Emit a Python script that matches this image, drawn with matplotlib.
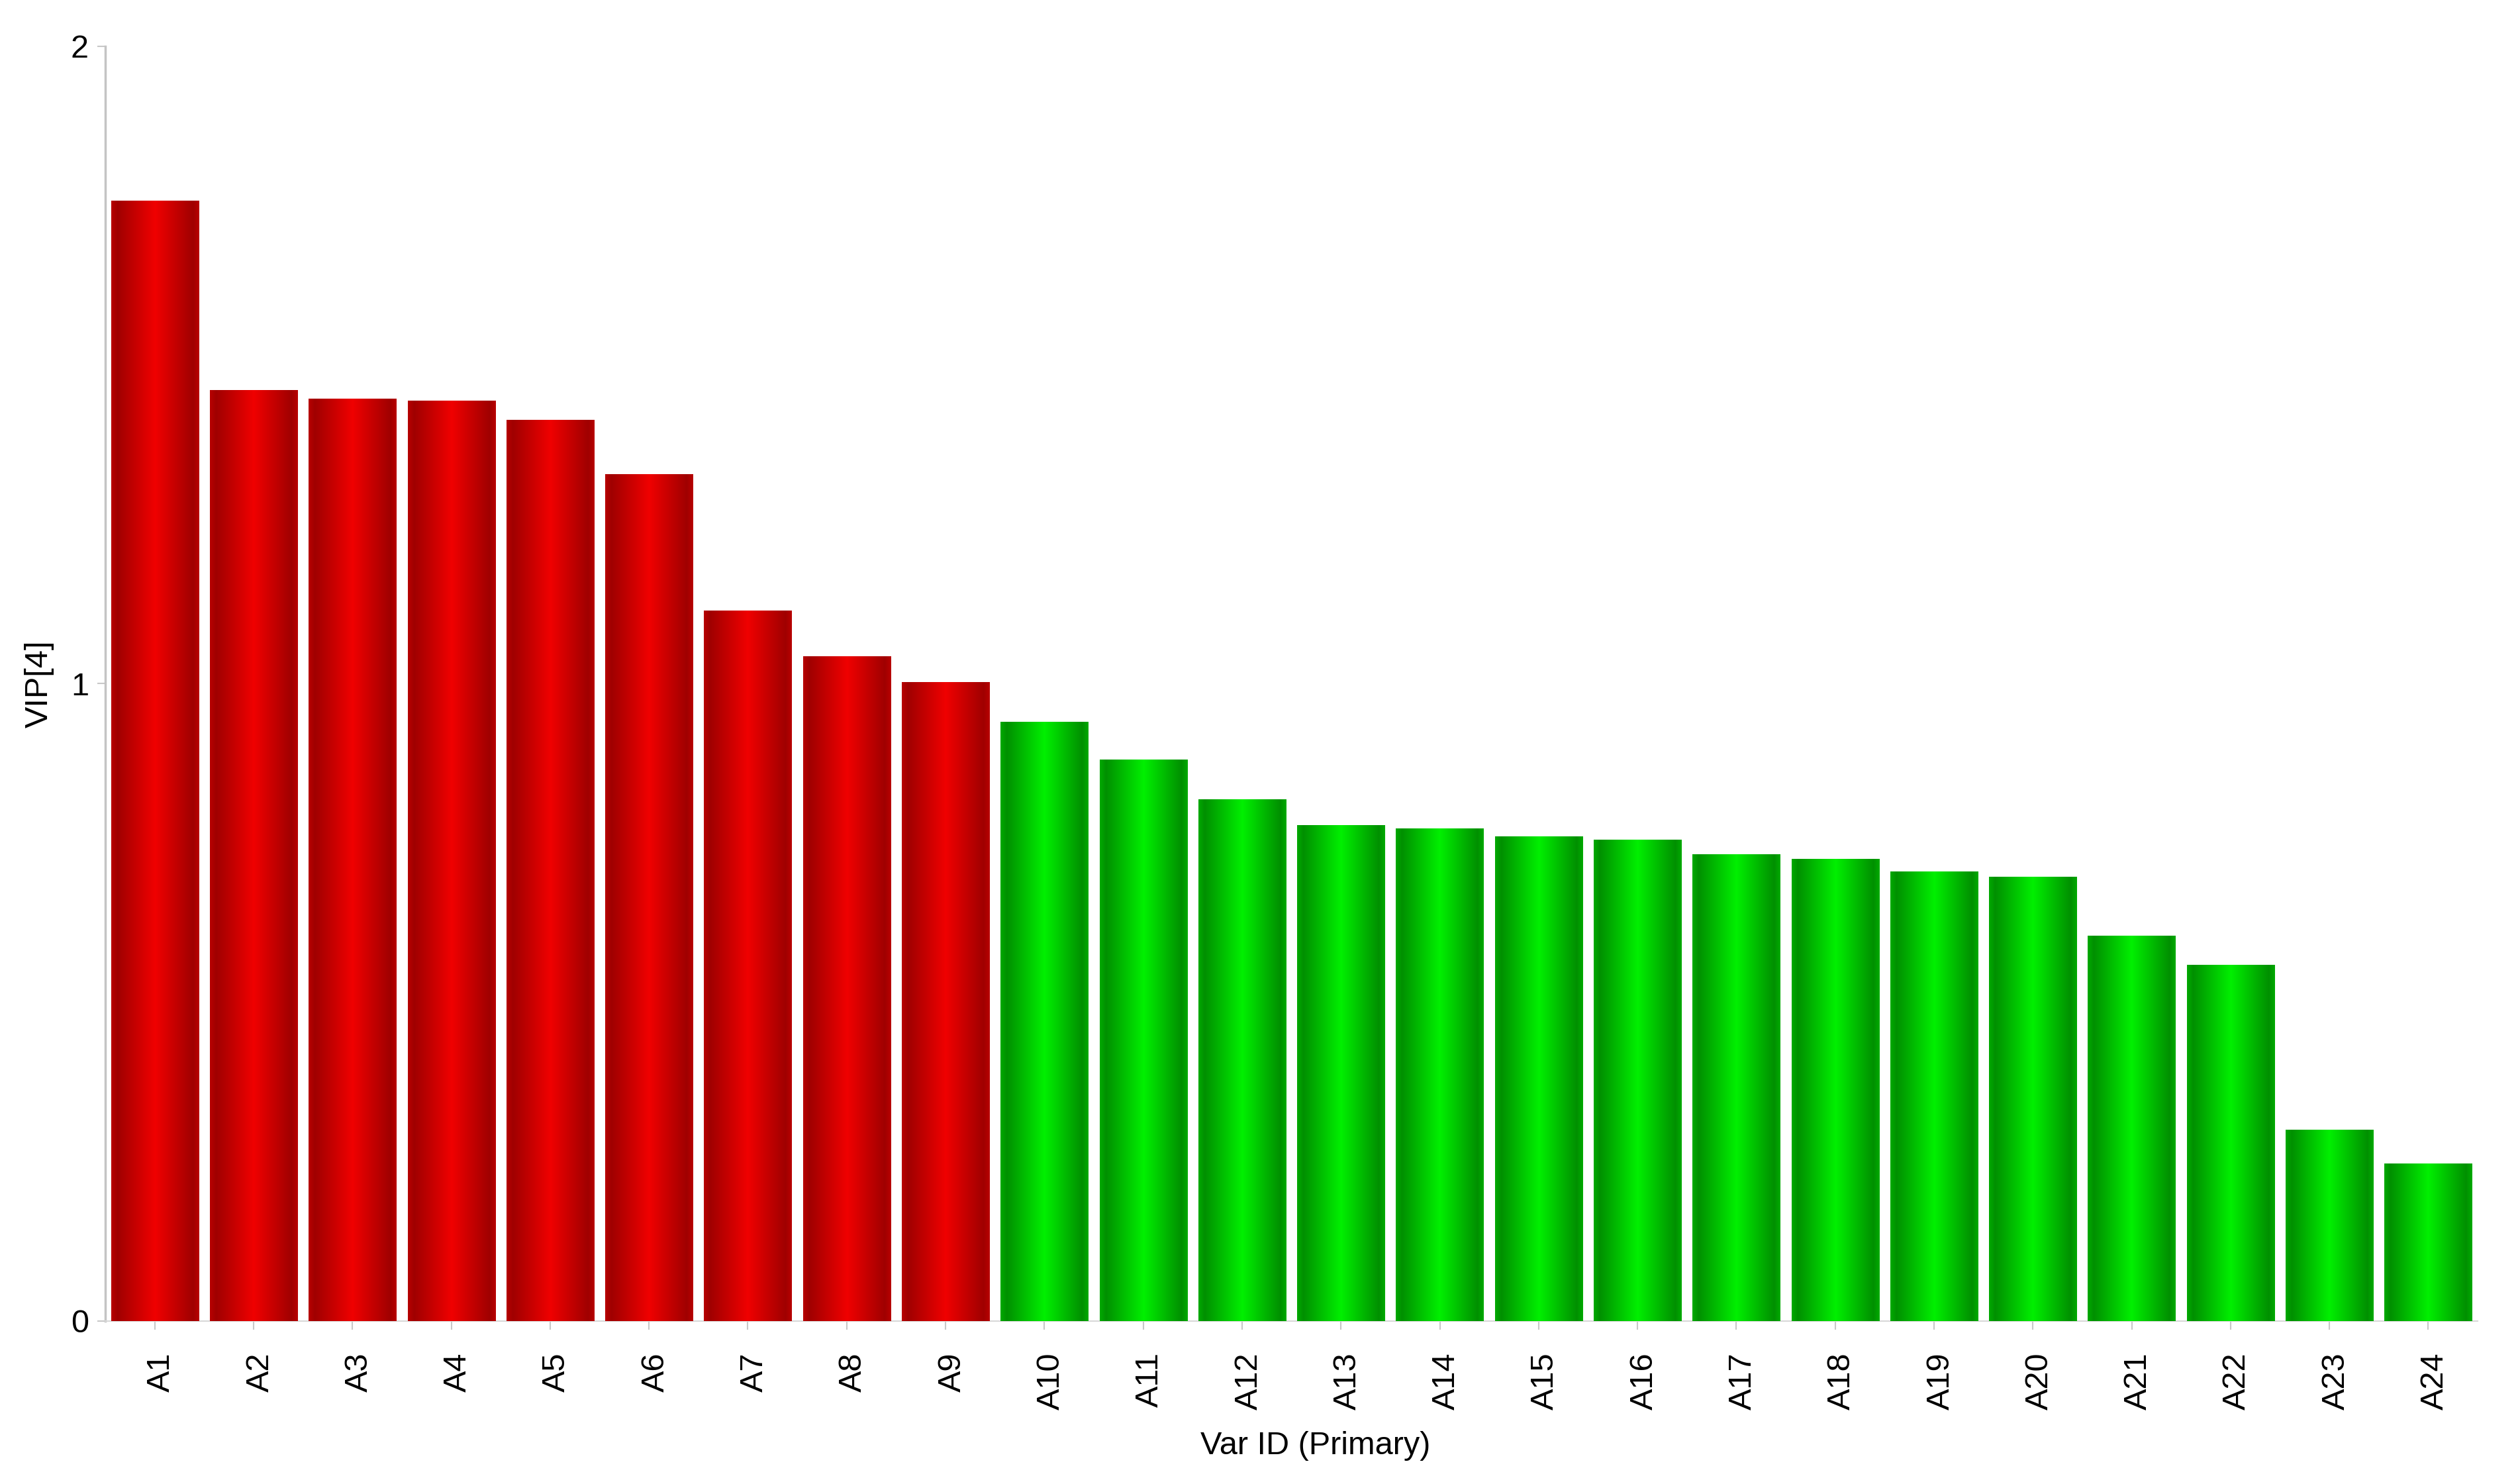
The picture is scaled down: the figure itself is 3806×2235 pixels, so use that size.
import matplotlib
matplotlib.use('Agg')
import matplotlib.pyplot as plt
import matplotlib.transforms as mtransforms
import numpy as np
from matplotlib.colors import LinearSegmentedColormap

# VIP[4] scores per variable
var_ids = ['A1', 'A2', 'A3', 'A4', 'A5', 'A6', 'A7', 'A8', 'A9', 'A10', 'A11', 'A12',
           'A13', 'A14', 'A15', 'A16', 'A17', 'A18', 'A19', 'A20', 'A21', 'A22', 'A23', 'A24']
vip_values = [1.757, 1.460, 1.447, 1.444, 1.414, 1.328, 1.114, 1.043, 1.002, 0.940, 0.880, 0.818,
              0.778, 0.772, 0.760, 0.755, 0.732, 0.725, 0.705, 0.697, 0.604, 0.558, 0.300, 0.247]
threshold = 1.0
y_ticks = [0, 1, 2]

plt.rcParams['font.family'] = ['Liberation Sans', 'DejaVu Sans']


def shade(edge, dark, light):
    # cylinder look: darker sides, bright centre
    return LinearSegmentedColormap.from_list(
        '', [(0.0, edge), (0.07, dark), (0.5, light), (0.93, dark), (1.0, edge)])


red_map = shade('#b80000', '#a00000', '#f00000')
green_map = shade('#00aa00', '#009000', '#00f000')

fig = plt.figure(figsize=(38.06, 22.35), dpi=100)
ax = fig.add_axes([0.0418, 0.1074, 0.9414, 0.8613])

x = np.arange(len(var_ids))
colors = ['#e00000' if v >= threshold else '#00d800' for v in vip_values]
bars = ax.bar(x, vip_values, width=0.885, color=colors, edgecolor='none', zorder=2)

grad = np.linspace(0, 1, 256).reshape(1, -1)
for bar, v in zip(bars, vip_values):
    cmap = red_map if v >= threshold else green_map
    x0 = bar.get_x()
    w = bar.get_width()
    h = bar.get_height()
    ax.imshow(grad, cmap=cmap, aspect='auto', extent=[x0, x0 + w, 0, h],
              zorder=3, interpolation='bilinear')

ax.set_xlim(-0.5, 23.5)
ax.set_ylim(0, 2)

ax.set_xticks(x)
ax.set_xticklabels(var_ids, rotation=90, fontsize=35)
ax.set_yticks(y_ticks)
ax.set_yticklabels([str(t) for t in y_ticks], fontsize=35)

for side in ['top', 'right']:
    ax.spines[side].set_visible(False)
ax.spines['left'].set_color('#c4c4c4')
ax.spines['left'].set_linewidth(2.5)
ax.spines['bottom'].set_color('#d8d8d8')
ax.spines['bottom'].set_linewidth(1.5)

ax.tick_params(axis='x', length=9, width=1.5, color='#c8c8c8', pad=25)
ax.tick_params(axis='y', length=9, width=1.5, color='#c8c8c8', pad=9)

# labels sit a little right of their ticks in the original
shift = mtransforms.ScaledTranslation(0.10, 0, fig.dpi_scale_trans)
for tick in ax.xaxis.get_major_ticks():
    tick.label1.set_transform(tick.label1.get_transform() + shift)

ax.set_xlabel('Var ID (Primary)', fontsize=35)
ax.xaxis.set_label_coords(0.510, -0.086)
ax.set_ylabel('VIP[4]', fontsize=35)
ax.yaxis.set_label_coords(-0.0215, 0.5)

fig.savefig('out.png', dpi=100, facecolor='white')
